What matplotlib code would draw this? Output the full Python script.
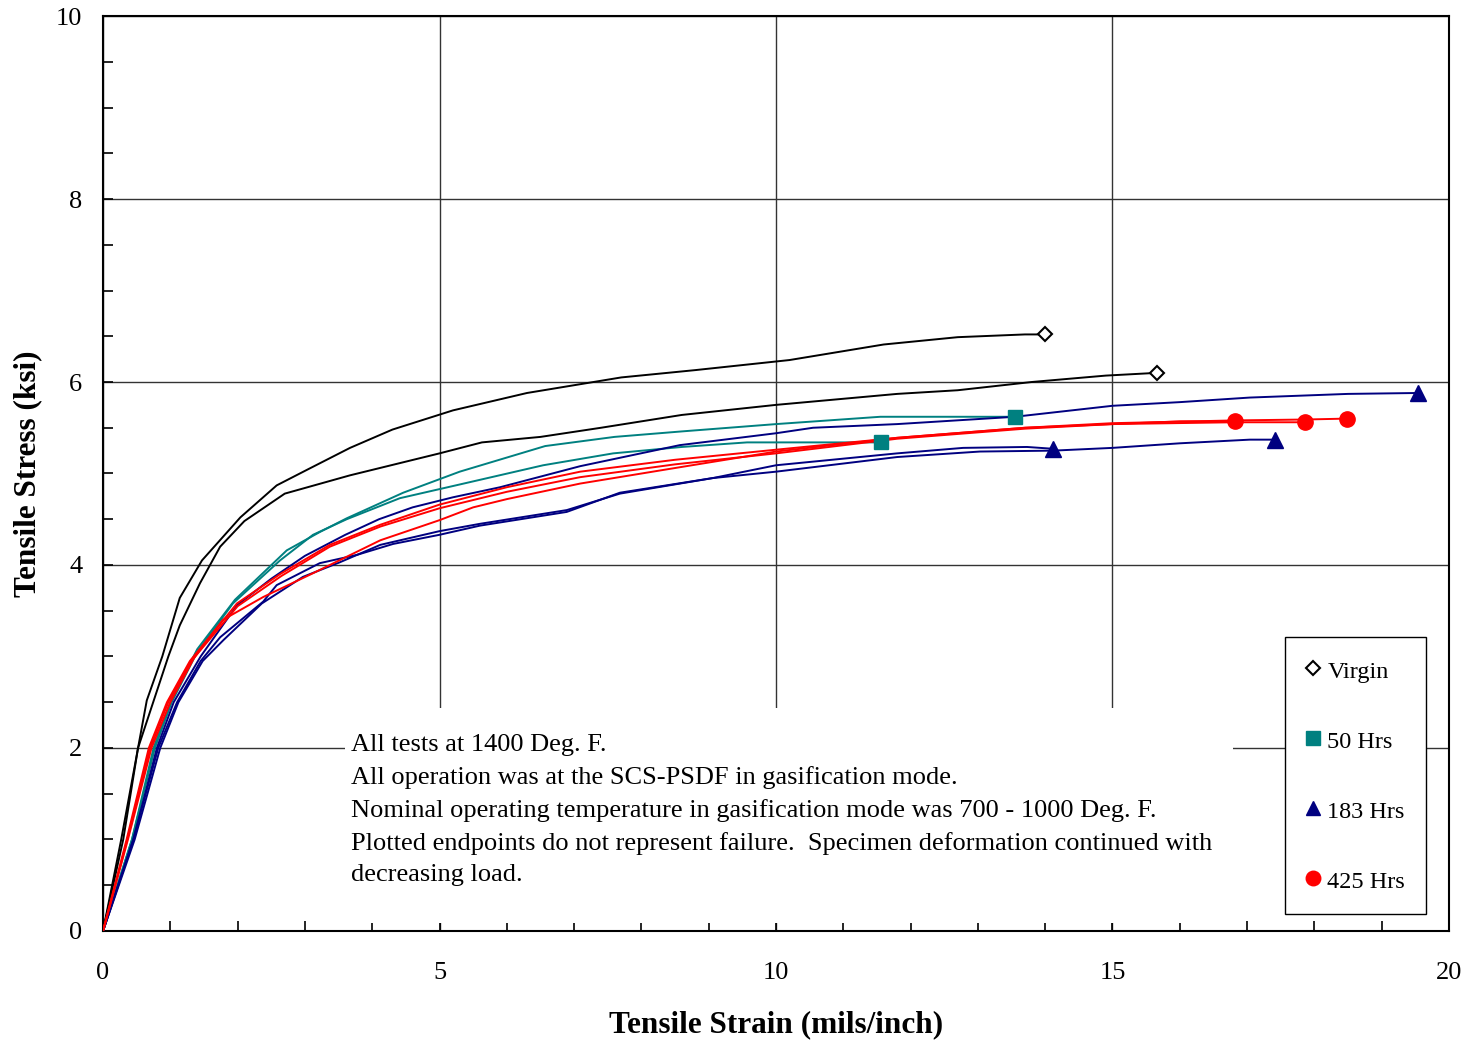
import matplotlib
matplotlib.use("Agg")
import matplotlib.pyplot as plt
from matplotlib.lines import Line2D
from matplotlib.patches import Rectangle

plt.rcParams["font.family"] = ["Liberation Serif", "DejaVu Serif"]

# ---- data (strain in mils/inch, stress in ksi) ----
virgin_1_x = [0, 0.27, 0.65, 0.88, 1.14, 1.47, 2.04, 2.58, 3.03, 3.67, 4.3, 5.2, 6.3, 7.7, 8.8, 10.2, 11.6, 12.7, 13.7, 14.0]
virgin_1_y = [0, 1.0, 2.52, 3.0, 3.64, 4.05, 4.52, 4.87, 5.04, 5.28, 5.48, 5.69, 5.88, 6.05, 6.13, 6.24, 6.41, 6.49, 6.52, 6.52]
virgin_2_x = [0, 0.3, 0.52, 0.97, 1.14, 1.44, 1.74, 2.1, 2.7, 3.67, 5.0, 5.63, 6.5, 7.4, 8.6, 10.0, 11.8, 12.7, 13.8, 14.9, 15.66]
virgin_2_y = [0, 1.0, 2.0, 3.0, 3.34, 3.80, 4.2, 4.48, 4.78, 4.98, 5.22, 5.34, 5.40, 5.50, 5.64, 5.75, 5.87, 5.91, 6.0, 6.07, 6.10]

hrs50_1_x = [0, 0.43, 0.75, 1.0, 1.4, 1.96, 2.73, 3.22, 3.62, 4.46, 5.3, 6.57, 7.6, 8.6, 10.0, 11.55, 13.55]
hrs50_1_y = [0, 1.0, 2.0, 2.5, 3.08, 3.62, 4.16, 4.36, 4.51, 4.79, 5.02, 5.30, 5.40, 5.46, 5.54, 5.62, 5.62]
hrs50_2_x = [0, 0.43, 0.77, 1.02, 1.4, 1.93, 2.63, 3.12, 3.62, 4.41, 5.3, 6.54, 7.58, 8.6, 9.57, 11.56]
hrs50_2_y = [0, 1.0, 2.0, 2.5, 3.05, 3.58, 4.05, 4.33, 4.50, 4.73, 4.88, 5.09, 5.22, 5.29, 5.34, 5.34]

hrs183_1_x = [0, 0.45, 0.8, 1.05, 1.45, 1.99, 2.5, 3.0, 3.6, 4.1, 4.6, 5.2, 5.9, 7.09, 8.57, 10.0, 10.55, 11.8, 13.55, 15.0, 16.0, 17.04, 18.5, 19.54]
hrs183_1_y = [0, 1.0, 2.0, 2.5, 3.0, 3.56, 3.85, 4.1, 4.33, 4.5, 4.63, 4.74, 4.85, 5.08, 5.31, 5.44, 5.50, 5.54, 5.62, 5.74, 5.78, 5.83, 5.87, 5.88]
hrs183_2_x = [0, 0.45, 0.82, 1.1, 1.45, 1.74, 2.38, 2.58, 3.22, 3.77, 4.31, 5.0, 5.6, 6.89, 7.68, 9.06, 10.0, 11.8, 12.78, 13.73, 14.12]
hrs183_2_y = [0, 1.0, 2.0, 2.5, 2.95, 3.21, 3.60, 3.78, 4.02, 4.11, 4.23, 4.33, 4.43, 4.58, 4.79, 4.95, 5.09, 5.22, 5.28, 5.29, 5.27]
hrs183_3_x = [0, 0.47, 0.85, 1.12, 1.48, 1.79, 2.36, 2.97, 3.52, 4.12, 5.0, 5.6, 6.89, 7.68, 9.06, 10.0, 11.8, 13.03, 14.12, 15.0, 16.0, 17.04, 17.41]
hrs183_3_y = [0, 1.0, 2.0, 2.5, 2.95, 3.18, 3.58, 3.87, 4.03, 4.22, 4.37, 4.45, 4.60, 4.78, 4.95, 5.02, 5.18, 5.24, 5.25, 5.28, 5.33, 5.37, 5.37]

hrs425_1_x = [0, 0.35, 0.68, 0.95, 1.29, 1.99, 2.63, 3.37, 4.12, 5.0, 6.0, 7.09, 8.5, 10.0, 11.8, 13.7, 15.0, 16.0, 16.82]
hrs425_1_y = [0, 1.0, 2.0, 2.5, 2.95, 3.58, 3.90, 4.22, 4.44, 4.66, 4.85, 5.02, 5.15, 5.26, 5.39, 5.50, 5.54, 5.57, 5.57]
hrs425_2_x = [0, 0.36, 0.7, 0.97, 1.31, 2.0, 2.65, 3.37, 4.12, 5.0, 6.0, 7.09, 8.5, 10.0, 11.8, 13.7, 15.0, 16.8, 17.86]
hrs425_2_y = [0, 1.0, 2.0, 2.5, 2.95, 3.55, 3.88, 4.2, 4.42, 4.62, 4.80, 4.96, 5.10, 5.22, 5.38, 5.49, 5.54, 5.56, 5.56]
hrs425_3_x = [0, 0.37, 0.72, 1.0, 1.35, 1.78, 2.38, 3.12, 4.12, 5.0, 5.5, 6.0, 7.09, 8.5, 10.0, 11.8, 13.7, 15.0, 16.8, 17.86, 18.48]
hrs425_3_y = [0, 1.0, 2.0, 2.5, 2.98, 3.40, 3.65, 3.91, 4.27, 4.49, 4.63, 4.72, 4.89, 5.06, 5.24, 5.39, 5.50, 5.55, 5.58, 5.59, 5.60]

labels = ["Virgin", "50 Hrs", "183 Hrs", "425 Hrs"]
note = ("All tests at 1400 Deg. F.\n"
        "All operation was at the SCS-PSDF in gasification mode.\n"
        "Nominal operating temperature in gasification mode was 700 - 1000 Deg. F.\n"
        "Plotted endpoints do not represent failure.  Specimen deformation continued with\n"
        "decreasing load.")

groups = [
    ([(virgin_1_x, virgin_1_y), (virgin_2_x, virgin_2_y)], "black",
     dict(marker="D", ms=7, mfc="white", mec="black", mew=1.5)),
    ([(hrs50_1_x, hrs50_1_y), (hrs50_2_x, hrs50_2_y)], "#008080",
     dict(marker="s", ms=10, mfc="#008080", mec="#008080")),
    ([(hrs183_1_x, hrs183_1_y), (hrs183_2_x, hrs183_2_y), (hrs183_3_x, hrs183_3_y)], "#000080",
     dict(marker="^", ms=11, mfc="#000080", mec="#000080")),
    ([(hrs425_1_x, hrs425_1_y), (hrs425_2_x, hrs425_2_y), (hrs425_3_x, hrs425_3_y)], "#ff0000",
     dict(marker="o", ms=11, mfc="#ff0000", mec="#ff0000")),
]

fig = plt.figure(figsize=(14.7, 10.41), dpi=100)
ax = fig.add_axes([0.0701, 0.1057, 0.9156, 0.8789])

for curves, col, mk in groups:
    for xs, ys in curves:
        ax.plot(xs, ys, color=col, lw=1.4, zorder=3)
        ax.plot(xs[-1:], ys[-1:], ls="none", zorder=4, **mk)

ax.set_xlim(0, 20)
ax.set_ylim(0, 10)
ax.set_xticks(range(0, 21, 5))
ax.set_yticks(range(0, 11, 2))
ax.set_xticks(range(0, 21, 1), minor=True)
ax.set_yticks([v * 0.5 for v in range(21)], minor=True)
ax.tick_params(which="both", direction="in", length=7, width=1.2,
               top=False, right=False, labelsize=19)
ax.tick_params(axis="x", pad=22)
ax.tick_params(axis="y", pad=15)
ax.grid(True, which="major", color="0.2", lw=1.0)
ax.set_axisbelow(True)
for sp in ax.spines.values():
    sp.set_linewidth(1.5)

ax.set_xlabel("Tensile Strain (mils/inch)", fontsize=22.5, fontweight="bold", labelpad=19)
ax.set_ylabel("Tensile Stress (ksi)", fontsize=22.5, fontweight="bold", labelpad=10)

# white panel behind the note, hiding the grid
ax.add_patch(Rectangle((3.6, 0.09), 13.19, 2.35, facecolor="white",
                       edgecolor="none", zorder=1))
ax.text(3.69, 2.15, note, fontsize=19, va="top", ha="left",
        linespacing=1.55, zorder=2)

handles = [Line2D([], [], ls="none", **g[2]) for g in groups]
for h in handles:
    h.set_markersize(h.get_markersize() * 0.95)
leg = ax.legend(handles, labels, loc="lower left", bbox_to_anchor=(0.878, 0.0186),
                fontsize=17.5, frameon=True, fancybox=False, framealpha=1,
                edgecolor="black", handlelength=0.6, handleheight=1.2,
                handletextpad=0.3, labelspacing=1.83, borderpad=0.85,
                borderaxespad=0)
leg.get_frame().set_linewidth(1.0)

fig.savefig("out.png", dpi=100)
